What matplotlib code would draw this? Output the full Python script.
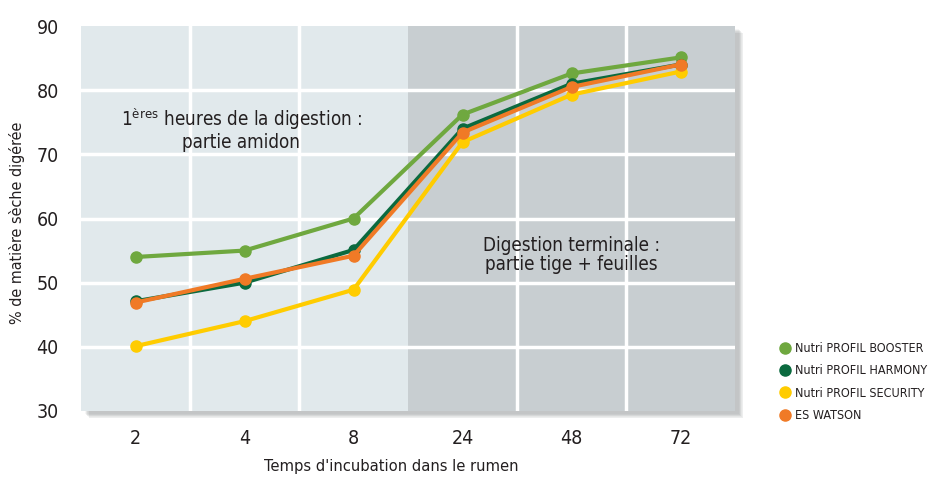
import matplotlib.pyplot as plt
from matplotlib.patches import Rectangle
import numpy as np

plt.rcParams['font.family'] = ['DejaVu Sans']
plt.rcParams['font.stretch'] = 'condensed'
plt.rcParams['mathtext.fontset'] = 'custom'
plt.rcParams['mathtext.rm'] = 'DejaVu Sans:stretch=condensed'

hours = ['2', '4', '8', '24', '48', '72']
booster = [54, 55, 60, 76.2, 82.6, 85.1]
harmony = [47.1, 50, 55.1, 74, 81, 84]
security = [40.1, 44, 48.9, 71.9, 79.3, 82.9]
watson = [46.9, 50.6, 54.2, 73.4, 80.5, 84]

series = [
    ('Nutri PROFIL BOOSTER', booster, '#6fa83f'),
    ('Nutri PROFIL HARMONY', harmony, '#0b6a3f'),
    ('Nutri PROFIL SECURITY', security, '#ffcc00'),
    ('ES WATSON', watson, '#f07a26'),
]
txt_col = '#231f20'

fig = plt.figure(figsize=(9.29, 4.78), dpi=100)
ax = fig.add_axes([81 / 929, 1 - 411 / 478, 654 / 929, 385 / 478])

x = np.arange(len(hours))

# soft shadow under the plot area
for i in range(8):
    sh = Rectangle((81 / 929 + (4 + i * 0.6) / 929, 1 - 411 / 478 - (3 + i * 0.6) / 478),
                   654 / 929, 385 / 478, transform=fig.transFigure,
                   facecolor='#6a6f73', alpha=0.06, zorder=-5, lw=0)
    fig.patches.append(sh)

ax.set_xlim(-0.5, 5.5)
ax.set_ylim(30, 89.6)
ax.axvspan(-0.5, 2.5, color='#e1e9ec', zorder=0, lw=0)
ax.axvspan(2.5, 5.5, color='#c8ced1', zorder=0, lw=0)

for yv in [40, 50, 60, 70, 80]:
    ax.axhline(yv, color='white', lw=2.5, zorder=1)
for xv in [0.5, 1.5, 3.5, 4.5]:
    ax.axvline(xv, color='white', lw=2.5, zorder=1)

for label, vals, col in series:
    ax.plot(x, vals, color=col, lw=3, marker='o', ms=8, label=label, zorder=3)

ax.set_xticks(x)
ax.set_xticklabels(hours)
ax.set_yticks([30, 40, 50, 60, 70, 80, 90])
ax.tick_params(axis='both', length=0, labelsize=14, labelcolor=txt_col)
ax.tick_params(axis='x', pad=13)
ax.tick_params(axis='y', pad=16)
for sp in ax.spines.values():
    sp.set_visible(False)

ax.set_xlabel("Temps d'incubation dans le rumen", fontsize=11.8, color=txt_col)
ax.xaxis.set_label_coords(0.474, -0.125)
ax.set_ylabel('% de matière sèche digérée', fontsize=11.5, color=txt_col)
ax.yaxis.set_label_coords(-0.086, 0.49)

ax.text(0.97, 74.0, r'1$^{\rm ères}$ heures de la digestion :' + '\npartie amidon',
        ha='center', va='center', fontsize=13.5, color=txt_col, linespacing=1.05, zorder=4)
ax.text(4.0, 54.3, 'Digestion terminale :\npartie tige + feuilles',
        ha='center', va='center', fontsize=13.5, color=txt_col, linespacing=1.05, zorder=4)

handles = [plt.Line2D([], [], ls='', marker='o', ms=8, color=c) for _, _, c in series]
fig.legend(handles, [s[0] for s in series], loc='upper left',
           bbox_to_anchor=(771 / 929, 1 - 337 / 478), frameon=False, fontsize=9,
           handletextpad=0.0, labelspacing=0.75, handlelength=1.5,
           labelcolor=txt_col, borderaxespad=0)

fig.savefig('out.png', dpi=100)
